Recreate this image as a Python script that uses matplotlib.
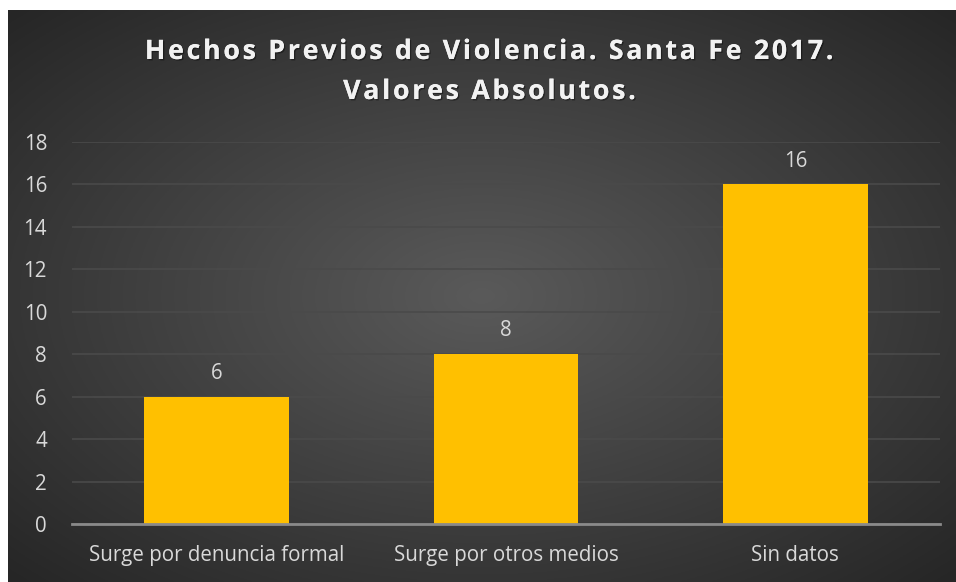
import numpy as np
import matplotlib
matplotlib.use('Agg')
import matplotlib.pyplot as plt
import matplotlib.patheffects as pe

categorias = ['Surge por denuncia formal', 'Surge por otros medios', 'Sin datos']
valores = [6, 8, 16]
y_ticks = [0, 2, 4, 6, 8, 10, 12, 14, 16, 18]
titulo_1 = 'Hechos Previos de Violencia. Santa Fe 2017.'
titulo_2 = 'Valores Absolutos.'

plt.rcParams['font.family'] = ['Open Sans', 'DejaVu Sans']

W, H = 956, 582
fig = plt.figure(figsize=(W / 100, H / 100), dpi=100)
fig.patch.set_facecolor('white')

# fondo con degradado radial (estilo Excel)
bg = fig.add_axes([8 / W, 0, (W - 8) / W, (H - 10) / H])
bg.set_axis_off()
yy, xx = np.mgrid[0:1:300j, 0:1:500j]
r = np.sqrt(((xx - 0.5) / 0.75) ** 2 + ((yy - 0.5) / 0.75) ** 2)
r = np.clip(r / 0.94, 0, 1)
centro = np.array([0x5a, 0x5a, 0x5a]) / 255
borde = np.array([0x26, 0x26, 0x26]) / 255
img = centro[None, None, :] * (1 - r[..., None]) + borde[None, None, :] * r[..., None]
bg.imshow(img, aspect='auto', extent=[0, 1, 0, 1])

# area del grafico
ax = fig.add_axes([72 / W, (H - 524) / H, (940 - 72) / W, (524 - 142) / H])
ax.set_facecolor('none')
x = np.arange(len(categorias))
bars = ax.bar(x, valores, width=0.5, color='#FFC000', zorder=3)
ax.set_xlim(-0.5, len(categorias) - 0.5)
ax.set_ylim(0, 18)
ax.set_yticks(y_ticks)
ax.set_yticklabels([str(v) for v in y_ticks])
ax.set_xticks(x)
ax.set_xticklabels(categorias)
ax.yaxis.grid(True, color='#4a4a4a', linewidth=1.2, zorder=0)
ax.tick_params(axis='both', length=0, colors='#D9D9D9', labelsize=14.8)
ax.tick_params(axis='y', pad=18)
ax.tick_params(axis='x', pad=15)
for s in ['top', 'right', 'left']:
    ax.spines[s].set_visible(False)
ax.spines['bottom'].set_color('#8a8a8a')
ax.spines['bottom'].set_linewidth(2)
ax.spines['bottom'].set_zorder(4)

for bar in bars:
    ax.text(bar.get_x() + bar.get_width() / 2, bar.get_height() + 0.6, str(int(bar.get_height())),
            ha='center', va='bottom', fontsize=14.8, color='#D9D9D9')

# titulo con espaciado entre letras
def espaciar(t):
    return '\u200a'.join(t)

sombra = [pe.withSimplePatchShadow(offset=(1, -1), shadow_rgbFace='black', alpha=0.4), pe.Normal()]
fig.text(488 / W, 1 - 52 / H, espaciar(titulo_1), ha='center', va='center', fontsize=19.3,
         fontweight='bold', color='#F2F2F2', path_effects=sombra)
fig.text(489 / W, 1 - 92 / H, espaciar(titulo_2), ha='center', va='center', fontsize=19.3,
         fontweight='bold', color='#F2F2F2', path_effects=sombra)

plt.savefig('out.png', dpi=100)
